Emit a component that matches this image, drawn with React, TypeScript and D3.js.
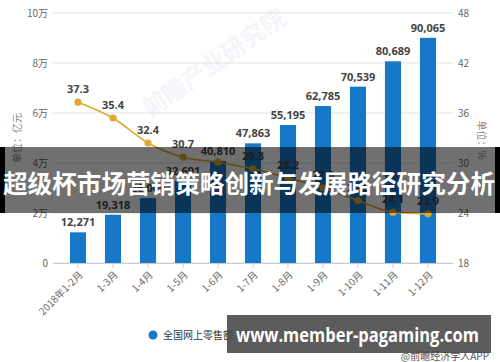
import React, { useRef, useEffect } from "react";
import * as d3 from "d3";

const months = ["2018年1-2月", "1-3月", "1-4月", "1-5月", "1-6月", "1-7月", "1-8月", "1-9月", "1-10月", "1-11月", "1-12月"];
const sales = [12271, 19318, 26009, 32691, 40810, 47863, 55195, 62785, 70539, 80689, 90065];
const growth = [37.3, 35.4, 32.4, 30.7, 30.1, 29.3, 28.2, 27.0, 25.5, 24.1, 23.9];
// the 1-6月 growth label is hidden behind the bar label in the original
const growthLabelShown = [true, true, true, true, false, true, true, true, true, true, true];
const leftTicks = [0, 20000, 40000, 60000, 80000, 100000];
const leftTickLabels = ["0", "2万", "4万", "6万", "8万", "10万"];
const rightTicks = [18, 24, 30, 36, 42, 48];
const legendNames = ["全国网上零售额（亿元）", "增速（%）"];
const bannerTitle = "超级杯市场营销策略创新与发展路径研究分析";
const siteText = "www.member-pagaming.com";

const BLUE = "#1778c8";
const GOLD = "#e0a82e";
const FONT = "'Noto Sans CJK SC', 'Noto Sans', sans-serif";

function ComboChart() {
  const svgRef = useRef<SVGSVGElement>(null);

  useEffect(() => {
    const svg = d3.select(svgRef.current);
    svg.selectAll("*").remove();

    const left = 53, right = 453, top = 13, bottom = 263;

    const x = d3.scaleBand().domain(months).range([left, right]).paddingInner(0.54).paddingOuter(0.485);
    const yL = d3.scaleLinear().domain([0, 100000]).range([bottom, top]);
    const yR = d3.scaleLinear().domain([18, 48]).range([bottom, top]);
    const cx = (d: string) => (x(d) as number) + x.bandwidth() / 2;

    // faint watermark
    svg.append("text")
      .attr("transform", "translate(150,118) rotate(-35)")
      .attr("font-family", FONT).attr("font-size", 24).attr("font-weight", "bold")
      .attr("fill", "#f3f5f8")
      .text("前瞻产业研究院");

    // grid
    svg.append("g").selectAll("line").data(leftTicks).join("line")
      .attr("x1", left).attr("x2", right)
      .attr("y1", (d) => yL(d)).attr("y2", (d) => yL(d))
      .attr("stroke", "#e3e3e3").attr("stroke-width", 1);

    // left axis labels
    svg.append("g").selectAll("text").data(leftTicks).join("text")
      .attr("x", 48).attr("y", (d) => yL(d)).attr("dy", "0.35em")
      .attr("text-anchor", "end").attr("font-family", FONT).attr("font-size", 10).attr("fill", "#666")
      .text((d, i) => leftTickLabels[i]);

    // right axis labels
    svg.append("g").selectAll("text").data(rightTicks).join("text")
      .attr("x", 458).attr("y", (d) => yR(d)).attr("dy", "0.35em")
      .attr("font-family", FONT).attr("font-size", 10).attr("fill", "#666")
      .text((d) => d);

    // units
    svg.append("text")
      .attr("transform", "translate(17,138) rotate(-90)")
      .attr("text-anchor", "middle").attr("dy", "0.35em")
      .attr("font-family", FONT).attr("font-size", 10).attr("fill", "#888")
      .text("单位：亿元");
    svg.append("text")
      .attr("transform", "translate(481,140) rotate(90)")
      .attr("text-anchor", "middle").attr("dy", "0.35em")
      .attr("font-family", FONT).attr("font-size", 10).attr("fill", "#888")
      .text("单位：%");

    // x axis
    const xAxis = d3.axisBottom(x).tickSize(5).tickSizeOuter(0).tickFormat(() => "");
    const gx = svg.append("g").attr("transform", `translate(0,${bottom})`).call(xAxis);
    gx.select(".domain").attr("stroke", "#c8ccd2");
    gx.selectAll(".tick line").attr("stroke", "#c8ccd2");

    svg.append("g").selectAll("text").data(months).join("text")
      .attr("transform", (d) => `translate(${cx(d) + 3},${bottom + 10}) rotate(-45)`)
      .attr("text-anchor", "end").attr("dy", "0.35em")
      .attr("font-family", FONT).attr("font-size", 10).attr("fill", "#666")
      .text((d) => d);

    // bars
    svg.append("g").selectAll("rect").data(sales).join("rect")
      .attr("x", (d, i) => x(months[i]) as number)
      .attr("y", (d) => yL(d))
      .attr("width", x.bandwidth())
      .attr("height", (d) => bottom - yL(d))
      .attr("fill", BLUE);

    svg.append("g").selectAll("text").data(sales).join("text")
      .attr("x", (d, i) => cx(months[i]))
      .attr("y", (d) => yL(d) - 6)
      .attr("text-anchor", "middle")
      .attr("font-family", "'Open Sans', sans-serif").attr("font-size", 11).attr("font-weight", "bold").attr("fill", "#444")
      .text((d) => d3.format(",")(d));

    // growth line
    const line = d3.line<number>()
      .x((d, i) => cx(months[i]))
      .y((d) => yR(d))
      .curve(d3.curveMonotoneX);
    svg.append("path").datum(growth)
      .attr("d", line).attr("fill", "none").attr("stroke", GOLD).attr("stroke-width", 1.6);
    svg.append("g").selectAll("circle").data(growth).join("circle")
      .attr("cx", (d, i) => cx(months[i])).attr("cy", (d) => yR(d)).attr("r", 3.6)
      .attr("fill", GOLD);
    svg.append("g").selectAll("text").data(growth.map((v, i) => ({ v, i })).filter((d) => growthLabelShown[d.i])).join("text")
      .attr("x", (d) => cx(months[d.i]))
      .attr("y", (d) => yR(d.v) - 9)
      .attr("text-anchor", "middle")
      .attr("font-family", "'Open Sans', sans-serif").attr("font-size", 11).attr("font-weight", "bold").attr("fill", "#444")
      .text((d) => d.v.toFixed(1));

    // legend
    const lg = svg.append("g").attr("font-family", FONT).attr("font-size", 10).attr("fill", "#333");
    lg.append("circle").attr("cx", 153).attr("cy", 335).attr("r", 4.5).attr("fill", BLUE);
    lg.append("text").attr("x", 163).attr("y", 335).attr("dy", "0.35em").text(legendNames[0]);
    lg.append("circle").attr("cx", 300).attr("cy", 335).attr("r", 4.5).attr("fill", GOLD);
    lg.append("text").attr("x", 310).attr("y", 335).attr("dy", "0.35em").text(legendNames[1]);

    svg.append("text")
      .attr("x", 489).attr("y", 360).attr("text-anchor", "end")
      .attr("font-family", FONT).attr("font-size", 10).attr("fill", "#555")
      .text("@前瞻经济学人APP");

    // title banner overlay
    svg.append("rect").attr("x", 0).attr("y", 147).attr("width", 500).attr("height", 66)
      .attr("fill", "rgba(0,0,0,0.56)");
    svg.append("rect").attr("x", 0).attr("y", 147).attr("width", 5).attr("height", 66).attr("fill", "#000");
    svg.append("rect").attr("x", 495).attr("y", 147).attr("width", 5).attr("height", 66).attr("fill", "#000");
    svg.append("text")
      .attr("x", 3).attr("y", 184).attr("dy", "0.36em")
      .attr("font-family", FONT).attr("font-size", 24.6).attr("font-weight", "bold").attr("fill", "#fff")
      .attr("textLength", 492).attr("lengthAdjust", "spacingAndGlyphs")
      .text(bannerTitle);

    // site overlay
    svg.append("rect").attr("x", 227).attr("y", 315).attr("width", 264).attr("height", 38)
      .attr("fill", "rgba(70,70,70,0.88)");
    svg.append("text")
      .attr("x", 236).attr("y", 342)
      .attr("font-family", "'Open Sans', sans-serif").attr("font-size", 20).attr("font-weight", "bold").attr("fill", "#fff")
      .attr("textLength", 243).attr("lengthAdjust", "spacingAndGlyphs")
      .text(siteText);
  }, []);

  return <svg ref={svgRef} width={500} height={362} style={{ display: "block", background: "#fff" }} />;
}

export default function App() {
  return (
    <div style={{ position: "fixed", left: 0, top: 0, width: 500, height: 362, overflow: "hidden", background: "#fff" }}>
      <ComboChart />
    </div>
  );
}
